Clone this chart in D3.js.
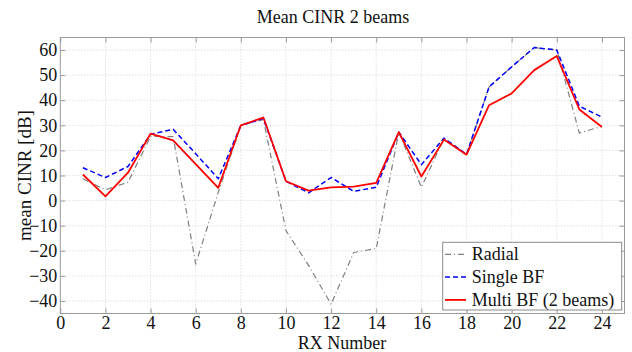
<!DOCTYPE html>
<html>
<head>
<meta charset="utf-8">
<script src="https://cdn.jsdelivr.net/npm/d3@7/dist/d3.min.js"></script>
<style>
  html, body { margin: 0; padding: 0; background: #fff; }
  svg { display: block; font-family: "Liberation Serif", "Times New Roman", serif; }
  svg text { font-family: "Liberation Serif", "Times New Roman", serif !important; }
</style>
</head>
<body>
<svg id="chart" width="632" height="352"></svg>
<script>
// Receiver indices
const rx = d3.range(1, 25);

// Mean CINR per receiver [dB]
const radial   = [8.7, 4.3, 7.3, 25.6, 25.5, -25.3, 3.3, 30, 32.3, -12, -25.8, -41.3,
                  -20.7, -19.1, 27.3, 5.3, 24.7, 18.3, 45.3, 53.3, 61, 60, 26.9, 29.6];
const singleBF = [13.1, 9.2, 13.6, 26.4, 28.4, 18.7, 8.7, 30, 32.7, 7.7, 3.1, 9.2,
                  3.7, 5.3, 27.3, 14.3, 24.9, 18.4, 45.3, 53.3, 61, 60, 37.6, 33.3];
const multiBF  = [10.4, 1.7, 11.1, 26.7, 24, 14.5, 5.1, 30, 33.1, 7.7, 4, 5.3,
                  5.6, 7.1, 27.3, 9.6, 24.3, 18.3, 38, 42.7, 52, 57.6, 36.3, 29.3];

const xTicks = d3.range(0, 25, 2);
const yTicks = d3.range(-40, 61, 10);

const seriesNames  = ["Radial", "Single BF", "Multi BF (2 beams)"];
const seriesColors = ["#808080", "#0000ff", "#ff0000"];
const seriesDash   = ["6,3,1,3", "5,3", null];
const seriesWidth  = [1.2, 1.5, 1.8];
const seriesData   = [radial, singleBF, multiBF];

const serif = "'Liberation Serif', 'Times New Roman', serif";
const svg = d3.select("#chart");
const plotL = 60.3, plotR = 624.5, plotT = 37.5, plotB = 313.5;

const x = d3.scaleLinear().domain([0, 25]).range([plotL, plotR]);
const y = d3.scaleLinear().domain([-45, 65]).range([plotB, plotT]);

// grid
const grid = svg.append("g").attr("stroke", "#c8c8c8").attr("stroke-width", 0.8)
  .attr("stroke-dasharray", "1,2");
grid.selectAll(".gx").data(xTicks.filter(d => d > 0)).enter().append("line")
  .attr("x1", d => x(d)).attr("x2", d => x(d)).attr("y1", plotT).attr("y2", plotB);
grid.selectAll(".gy").data(yTicks).enter().append("line")
  .attr("x1", plotL).attr("x2", plotR).attr("y1", d => y(d)).attr("y2", d => y(d));

// axes with inward ticks on all four sides
const tickLen = 5;
const axisColor = "#9a9a9a";
function styleAxis(g) {
  g.attr("font-family", serif).attr("font-size", 18);
  g.select(".domain").remove();
  g.selectAll(".tick line").attr("stroke", axisColor);
  g.selectAll(".tick text").attr("fill", "#111");
}
svg.append("g").attr("transform", `translate(0,${plotB})`)
  .call(d3.axisBottom(x).tickValues(xTicks).tickSize(-tickLen).tickPadding(2.5).tickFormat(d3.format("d")))
  .call(styleAxis);
svg.append("g").attr("transform", `translate(0,${plotT})`)
  .call(d3.axisTop(x).tickValues(xTicks).tickSize(-tickLen).tickFormat(""))
  .call(styleAxis);
svg.append("g").attr("transform", `translate(${plotL},0)`)
  .call(d3.axisLeft(y).tickValues(yTicks).tickSize(-tickLen).tickPadding(3).tickFormat(d3.format("d")))
  .call(styleAxis);
svg.append("g").attr("transform", `translate(${plotR},0)`)
  .call(d3.axisRight(y).tickValues(yTicks).tickSize(-tickLen).tickFormat(""))
  .call(styleAxis);

svg.append("rect").attr("x", plotL).attr("y", plotT)
  .attr("width", plotR - plotL).attr("height", plotB - plotT)
  .attr("fill", "none").attr("stroke", axisColor).attr("stroke-width", 1);

// series lines
const line = d3.line().x((d, i) => x(rx[i])).y(d => y(d));
seriesData.forEach((vals, k) => {
  svg.append("path").datum(vals)
    .attr("d", line)
    .attr("fill", "none")
    .attr("stroke", seriesColors[k])
    .attr("stroke-width", seriesWidth[k])
    .attr("stroke-dasharray", seriesDash[k])
    .attr("stroke-linejoin", "round");
});

// title and axis labels
svg.append("text").attr("x", 333).attr("y", 22.5).attr("text-anchor", "middle")
  .attr("font-size", 18).attr("fill", "#111").text("Mean CINR 2 beams");
svg.append("text").attr("x", 342).attr("y", 349).attr("text-anchor", "middle")
  .attr("font-size", 18).attr("fill", "#111").text("RX Number");
svg.append("text").attr("transform", `translate(31,${(plotT + plotB) / 2}) rotate(-90)`)
  .attr("text-anchor", "middle").attr("font-size", 19)
  .attr("fill", "#111").text("mean CINR [dB]");

// legend
const lg = svg.append("g");
lg.append("rect").attr("x", 442.7).attr("y", 242.3).attr("width", 179).attr("height", 67.7)
  .attr("fill", "#fff").attr("stroke", "#8a8a8a").attr("stroke-width", 1);
seriesNames.forEach((name, k) => {
  const yy = 254.3 + k * 22.8;
  lg.append("line").attr("x1", 445).attr("x2", 466).attr("y1", yy).attr("y2", yy)
    .attr("stroke", seriesColors[k]).attr("stroke-width", seriesWidth[k])
    .attr("stroke-dasharray", seriesDash[k]);
  lg.append("text").attr("x", 471.7).attr("y", yy + 6)
    .attr("font-size", 18).attr("fill", "#111").text(name);
});
</script>
</body>
</html>
